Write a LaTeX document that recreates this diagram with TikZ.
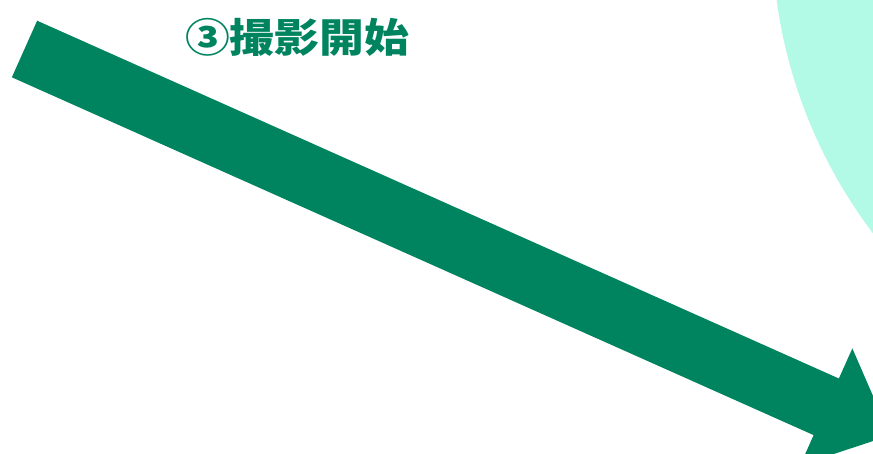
\documentclass[tikz,border=0pt]{standalone}
\usepackage{fontspec}
\newfontfamily\jpfont{Noto Sans CJK JP}
\definecolor{arrowgreen}{HTML}{00845F}
\definecolor{mint}{HTML}{B3FAE6}
\tikzset{
    bigarrow/.style={fill=arrowgreen},
    title/.style={text=arrowgreen, inner sep=0pt, font=\jpfont\bfseries\fontsize{40}{48}\selectfont}
}

\begin{document}
\begin{tikzpicture}[x=1pt, y=-1pt]
    \useasboundingbox (0, 0) rectangle (873, 453);
    \clip (0, 0) rectangle (873, 453);
    \fill [mint] (1272, -68) circle (500pt);
    \begin{scope}[shift={(24.5, 49)}, rotate=-24.05]
        \coordinate (tail) at (0, 0);
        \coordinate (tip) at (948, 0);
        \fill [bigarrow] (0, -31) -- (878, -31) -- (878, -64) -- (tip)
            -- (878, 64) -- (878, 31) -- (0, 31) -- cycle;
    \end{scope}
    \node [title, anchor=base] (start) at (297, 52) {\scalebox{1.12}[1]{③撮影開始}};
\end{tikzpicture}
\end{document}
